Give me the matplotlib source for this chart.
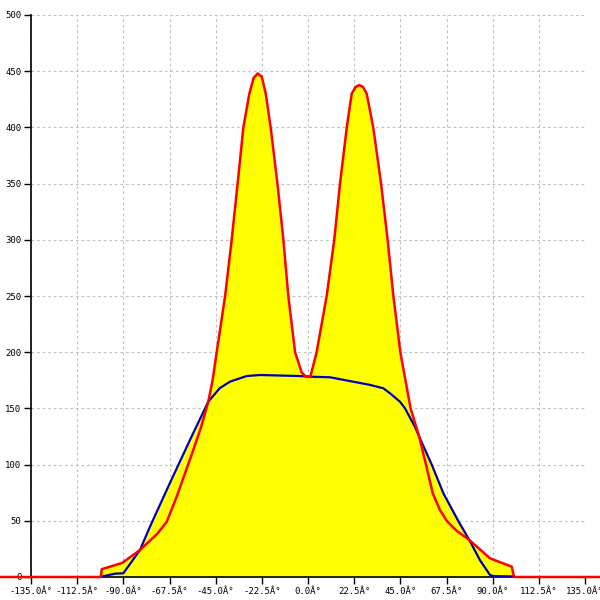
import numpy as np
import matplotlib
matplotlib.use("Agg")
import matplotlib.pyplot as plt

# red series (angle in degrees, value)
red_x = [-150, -101, -100.5, -90.6, -81.9, -73.7, -68.9, -64, -60, -55.9, -52, -48.6, -46.5,
         -44.5, -40.4, -37.2, -34.3, -31.5, -28.6, -26.5, -24.5, -22.5, -20.6, -18.2,
         -14.9, -12.0, -9.6, -6.3, -3.1, -1.2, 0, 1.2, 4.2, 9.1, 12.8, 15.6, 18.9,
         21.3, 23.2, 25, 26.8, 28.6, 31.8, 35.6, 38.8, 41.6, 45.0, 50, 54.2, 57.5,
         60.8, 64.2, 67.6, 72.5, 78.6, 88.7, 99.3, 100.4, 150]
red_y = [0, 0, 7, 12.5, 24, 38, 49, 71.4, 92, 113, 134, 156, 175,
         200, 250, 300, 350, 400, 430, 444, 448, 445, 430, 400,
         350, 300, 250, 200, 182, 178.5, 178, 178.5, 200, 250, 300, 350, 400,
         430, 436, 437.7, 436, 430, 400, 350, 300, 250, 200, 150, 124.8, 100,
         74.4, 60, 50, 41, 33, 16.6, 9.2, 0, 0]

# blue series
blue_x = [-100.7, -94, -90, -81.9, -77, -67.3, -57.5, -48.6, -43, -38, -29.9, -23.4,
          -3.9, 1, 10.7, 21.9, 30, 36.7, 40, 44.8, 47.3, 52.1, 54.2, 60.3, 66,
          73.2, 78.6, 83.8, 88.7, 90.4, 100.4]
blue_y = [0.3, 3, 3.3, 24, 44.8, 83.6, 122, 156, 168, 173.8, 178.8, 179.7,
          178.8, 178.2, 177.7, 173.8, 171, 167.9, 163.4, 156, 150, 133.7, 124.8, 100, 74.4,
          50, 33, 15, 1.8, 0.8, 0.5]

xticks = np.arange(-135, 135.1, 22.5)
xtick_labels = ["%.1fÂ°" % v for v in xticks]
yticks = np.arange(0, 501, 50)

fig = plt.figure(figsize=(6, 6), dpi=100)
ax = fig.add_axes([31 / 600, 23 / 600, 554 / 600, 562 / 600])

# yellow area under both curves
ax.fill_between(blue_x, 0, blue_y, color="#ffff00", lw=0, zorder=1)
ax.fill_between(red_x, 0, red_y, color="#ffff00", lw=0, zorder=1)

ax.plot(blue_x, blue_y, color="#0000b4", lw=1.6, zorder=3)
ax.plot(red_x, red_y, color="#ff0000", lw=1.8, zorder=4, clip_on=False)

ax.set_xlim(-135, 135)
ax.set_ylim(0, 500)
ax.set_xticks(xticks)
ax.set_xticklabels(xtick_labels)
ax.set_yticks(yticks)
ax.set_yticklabels([str(v) for v in yticks])

for lab in ax.get_xticklabels() + ax.get_yticklabels():
    lab.set_family("DejaVu Sans Mono")
    lab.set_fontsize(6.5)

ax.tick_params(axis="both", direction="out", length=5, width=1, color="black", pad=2)
ax.grid(True, color="#c0c0c0", linestyle=(0, (2.5, 2.5)), lw=0.8)
ax.set_axisbelow(True)
for s in ["top", "right"]:
    ax.spines[s].set_visible(False)
ax.spines["left"].set_linewidth(1.2)
ax.spines["bottom"].set_linewidth(1.2)

fig.savefig("out.png", dpi=100)
